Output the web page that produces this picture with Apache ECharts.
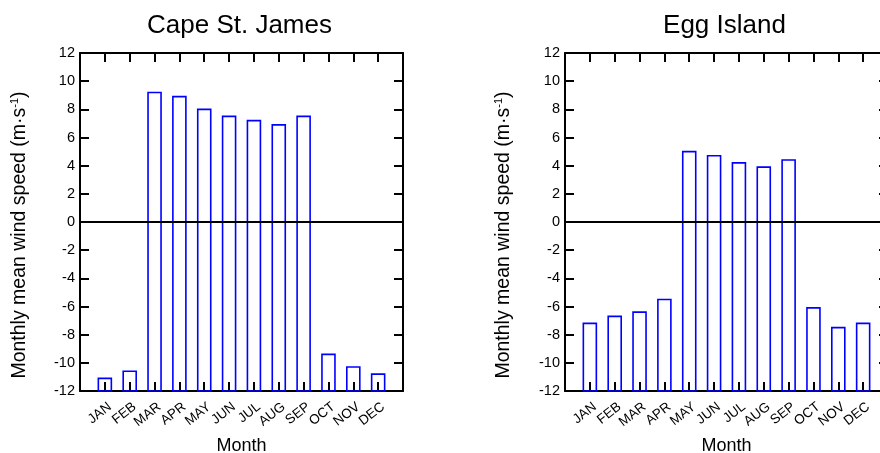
<!DOCTYPE html>
<html>
<head>
<meta charset="utf-8">
<script src="https://cdn.jsdelivr.net/npm/echarts@6/dist/echarts.min.js"></script>
<style>html,body{margin:0;padding:0;background:#fff}#c{width:880px;height:453px}</style>
</head>
<body>
<div id="c"></div>
<script>
const months = ['JAN','FEB','MAR','APR','MAY','JUN','JUL','AUG','SEP','OCT','NOV','DEC'];
const capeStJames = [-11.1, -10.6, 9.2, 8.9, 8.0, 7.5, 7.2, 6.9, 7.5, -9.4, -10.3, -10.8];
const eggIsland = [-7.2, -6.7, -6.4, -5.5, 5.0, 4.7, 4.2, 3.9, 4.4, -6.1, -7.5, -7.2];
const titles = ['Cape St. James', 'Egg Island'];
const yMin = -12, yMax = 12, yStep = 2;

const FONT = 'Liberation Sans, Arial, sans-serif';
const chart = echarts.init(document.getElementById('c'));
const grids = [
  {left: 80, top: 53, width: 323, height: 338, outerBoundsMode: 'none', containLabel: false},
  {left: 565, top: 53, width: 323, height: 338, outerBoundsMode: 'none', containLabel: false}
];
const xAxes = [], yAxes = [], series = [];
const seriesData = [capeStJames, eggIsland];
grids.forEach((g, i) => {
  const common = {
    gridIndex: i, type: 'value', min: 0, max: 13, interval: 1,
    axisLine: {show: true, onZero: false, lineStyle: {color: '#000', width: 2}},
    axisTick: {show: true, inside: true, length: 9, lineStyle: {color: '#000', width: 2}},
    splitLine: {show: false}
  };
  xAxes.push(Object.assign({}, common, {
    position: 'bottom',
    name: 'Month', nameLocation: 'middle', nameGap: 45,
    nameTextStyle: {fontFamily: FONT, fontSize: 18, color: '#000'},
    axisLabel: {
      rotate: 38, fontFamily: FONT, fontSize: 13.5, color: '#000', margin: 8,
      verticalAlign: 'top', lineHeight: 16,
      formatter: v => (v >= 1 && v <= 12) ? months[v - 1] : ''
    }
  }));
  xAxes.push(Object.assign({}, common, {position: 'top', axisLabel: {show: false}}));
  const ycommon = {
    gridIndex: i, type: 'value', min: yMin, max: yMax, interval: yStep,
    axisLine: {show: true, onZero: false, lineStyle: {color: '#000', width: 2}},
    axisTick: {show: true, inside: true, length: 9, lineStyle: {color: '#000', width: 2}},
    splitLine: {show: false}
  };
  yAxes.push(Object.assign({}, ycommon, {
    position: 'left',
    name: '{a|Monthly mean wind speed (m·s}{s|-1}{a|)}',
    nameLocation: 'middle', nameGap: i === 0 ? 50 : 51, nameRotate: 90,
    nameTextStyle: {
      padding: [0, 26, 0, 0],
      rich: {
        a: {fontFamily: FONT, fontSize: 19.5, color: '#000'},
        s: {fontFamily: FONT, fontSize: 11, color: '#000', verticalAlign: 'top', padding: [0, 0, 10, 0]}
      }
    },
    axisLabel: {fontFamily: FONT, fontSize: 14.5, color: '#000', margin: 5}
  }));
  yAxes.push(Object.assign({}, ycommon, {position: 'right', axisLabel: {show: false}}));
  series.push({
    type: 'custom',
    xAxisIndex: i * 2, yAxisIndex: i * 2,
    data: seriesData[i].map((v, k) => [k + 1, v]),
    renderItem: function (params, api) {
      const top = api.coord([api.value(0), api.value(1)]);
      const bot = api.coord([api.value(0), yMin]);
      const w = 13;
      return {
        type: 'rect',
        shape: {x: top[0] - w / 2, y: top[1], width: w, height: bot[1] - top[1]},
        style: {fill: 'none', stroke: '#0000ff', lineWidth: 1.6}
      };
    },
    markLine: {
      silent: true, symbol: 'none', label: {show: false},
      lineStyle: {color: '#000', width: 2, type: 'solid'},
      data: [{yAxis: 0}]
    },
    z: 1
  });
});

chart.setOption({
  animation: false,
  title: titles.map((t, i) => ({
    text: t, left: grids[i].left + 323 / 2 - 7, top: 8, textAlign: 'center',
    textStyle: {fontFamily: FONT, fontSize: 26, fontWeight: 'normal', color: '#000'}
  })),
  grid: grids,
  xAxis: xAxes,
  yAxis: yAxes,
  series: series
});
</script>
</body>
</html>
